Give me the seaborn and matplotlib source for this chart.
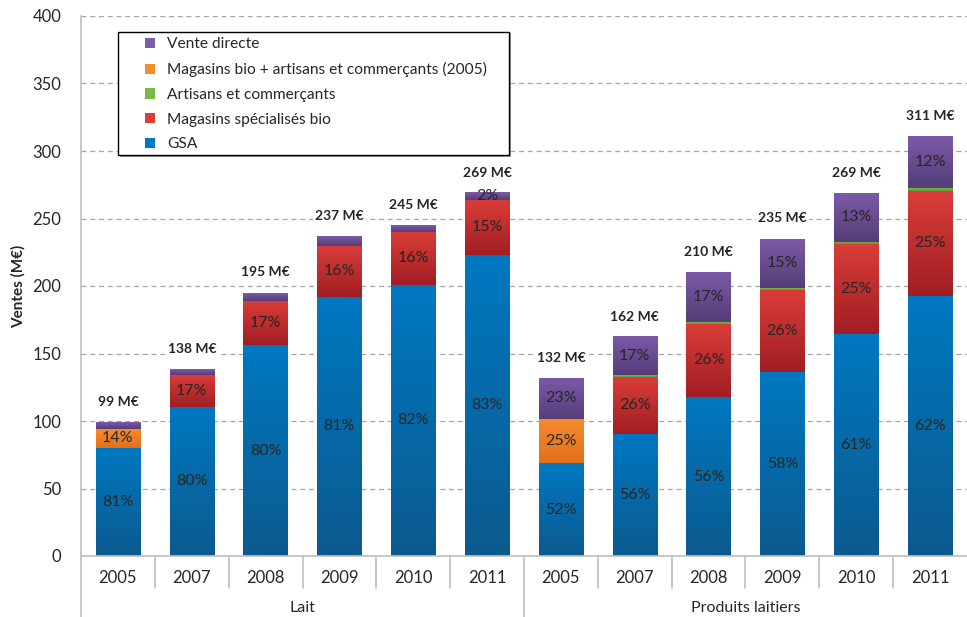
import numpy as np
import matplotlib
matplotlib.use("Agg")
import matplotlib.pyplot as plt
import matplotlib.transforms as mtransforms
from matplotlib.colors import to_rgb
from matplotlib.patches import Patch, Rectangle
import seaborn as sns

# ---- data -----------------------------------------------------------------
groups = ["Lait", "Produits laitiers"]
years = ["2005", "2007", "2008", "2009", "2010", "2011",
         "2005", "2007", "2008", "2009", "2010", "2011"]
bar_keys = ["Lait 2005", "Lait 2007", "Lait 2008", "Lait 2009", "Lait 2010", "Lait 2011",
            "PL 2005", "PL 2007", "PL 2008", "PL 2009", "PL 2010", "PL 2011"]
totals = [99, 138, 195, 237, 245, 269, 132, 162, 210, 235, 269, 311]  # M€

# share of each sales channel in the bar total (%)
share_gsa = [81, 80, 80, 81, 82, 83, 52, 56, 56, 58, 61, 62]
share_msb = [0, 17, 17, 16, 16, 15, 0, 26, 26, 26, 25, 25]
share_mbac = [14, 0, 0, 0, 0, 0, 25, 0, 0, 0, 0, 0]
share_ac = [0, 0, 0, 0, 0, 0, 0, 0.6, 0.6, 0.6, 0.6, 0.7]
share_vd = [5, 3, 3, 3, 2, 2, 23, 17.4, 17.4, 15.4, 13.4, 12.3]

# which segments carry a percentage label
label_gsa = [True] * 12
label_msb = [s > 0 for s in share_msb]
label_mbac = [s > 0 for s in share_mbac]
label_ac = [False] * 12
label_vd = [False] * 5 + [True] * 7

series_names = ["GSA", "Magasins spécialisés bio", "Magasins bio + artisans et commerçants (2005)",
                "Artisans et commerçants", "Vente directe"]
series_shares = [share_gsa, share_msb, share_mbac, share_ac, share_vd]
series_labels = [label_gsa, label_msb, label_mbac, label_ac, label_vd]
# (top, bottom) colours of the vertical gradient of each segment
series_colors = [("#0078C1", "#0C5A8E"),
                 ("#DA3D39", "#A01E23"),
                 ("#F68C2D", "#E0701B"),
                 ("#78BA45", "#5A9A2E"),
                 ("#7B5AA8", "#553D78")]
legend_order = [4, 2, 3, 1, 0]

# ---- style ----------------------------------------------------------------
sns.set_theme(style="white")
plt.rcParams["font.family"] = ["Lato", "DejaVu Sans"]
text_col = "#262626"
axis_col = "#BFBFBF"

fig = plt.figure(figsize=(9.67, 6.17), dpi=100)
W, H = 967, 617
ax = fig.add_axes([81 / W, 61 / H, 886 / W, 540 / H])

# ---- stacked bars ---------------------------------------------------------
bottom = np.zeros(len(totals))
segments = []  # (patches, series index, values, bottoms)
for si, shares in enumerate(series_shares):
    vals = np.array(totals, dtype=float) * np.array(shares, dtype=float) / 100.0
    n_before = len(ax.patches)
    sns.barplot(x=bar_keys, y=vals, order=bar_keys, bottom=bottom.copy(), width=0.6,
                color=series_colors[si][0], saturation=1, edgecolor="none",
                linewidth=0, zorder=2, ax=ax)
    patches = ax.patches[n_before:]
    segments.append((patches, si, vals, bottom.copy()))
    bottom = bottom + vals

# vertical gradient inside every segment
for patches, si, vals, bots in segments:
    top_c = np.array(to_rgb(series_colors[si][0]))
    bot_c = np.array(to_rgb(series_colors[si][1]))
    t = np.linspace(0, 1, 64)[:, None, None]
    grad = top_c[None, None, :] * (1 - t) + bot_c[None, None, :] * t
    for p in patches:
        h = p.get_height()
        if h <= 0:
            continue
        x0, y0, w = p.get_x(), p.get_y(), p.get_width()
        ax.imshow(grad, extent=[x0, x0 + w, y0, y0 + h], aspect="auto",
                  interpolation="bilinear", zorder=2.5)
        p.set_facecolor("none")

# percentage labels
for patches, si, vals, bots in segments:
    shares = series_shares[si]
    for i, (v, b) in enumerate(zip(vals, bots)):
        if series_labels[si][i] and v > 0:
            ax.text(i, b + v / 2, f"{round(shares[i])}%", ha="center", va="center",
                    fontsize=11.5, color=text_col, zorder=4)

# totals above the bars
for i, tot in enumerate(totals):
    ax.text(i, tot + 15, f"{tot} M€", ha="center", va="center", fontsize=10,
            fontweight="bold", color=text_col, zorder=4,
            bbox=dict(facecolor="white", edgecolor="none", pad=1.5))

# ---- axes -----------------------------------------------------------------
ax.set_xlim(-0.5, 11.5)
ax.set_ylim(0, 400)
ax.set_yticks(np.arange(0, 401, 50))
ax.set_axisbelow(True)
ax.yaxis.grid(True, linestyle=(0, (4, 3)), color="#A6A6A6", linewidth=0.9)
ax.xaxis.grid(False)
for side in ("top", "right"):
    ax.spines[side].set_visible(False)
for side in ("left", "bottom"):
    ax.spines[side].set_color(axis_col)
    ax.spines[side].set_linewidth(1.2)
ax.tick_params(axis="y", length=5, color=axis_col, labelsize=12, labelcolor=text_col, pad=9)
ax.set_xticks(range(len(totals)))
ax.set_xticklabels([""] * len(totals))
ax.tick_params(axis="x", length=0)
ax.set_xlabel("")
ax.set_ylabel("Ventes (M€)", fontsize=11, fontweight="bold", color=text_col)
ax.yaxis.set_label_coords(-55 / 886, 0.5)

# two-level category axis
trans = mtransforms.blended_transform_factory(ax.transData, ax.transAxes)
for i, yr in enumerate(years):
    ax.text(i, -22 / 540, yr, transform=trans, ha="center", va="center",
            fontsize=12, color=text_col)
for gi, g in enumerate(groups):
    ax.text(gi * 6 + 2.5, -52 / 540, g, transform=trans, ha="center", va="center",
            fontsize=11.5, color=text_col)
for k in range(12):
    depth = -61 / 540 if k in (0, 6) else -32 / 540
    ax.plot([k - 0.5, k - 0.5], [0, depth], transform=trans, color=axis_col,
            linewidth=1.2, clip_on=False, zorder=1)

# ---- legend ---------------------------------------------------------------
shadow = Rectangle(((118 + 1.5) / W, 1 - (155 + 1.5) / H), (509 - 118) / W, (155 - 32) / H,
                   transform=fig.transFigure, facecolor="#9A9A9A", edgecolor="none", zorder=3)
frame = Rectangle((118 / W, 1 - 155 / H), (509 - 118) / W, (155 - 32) / H,
                  transform=fig.transFigure, facecolor="white", edgecolor="black",
                  linewidth=1.0, zorder=3.1)
fig.add_artist(shadow)
fig.add_artist(frame)
handles = [Patch(facecolor=series_colors[i][0], edgecolor="none") for i in legend_order]
labels = [series_names[i] for i in legend_order]
leg = fig.legend(handles, labels, loc="upper left", bbox_to_anchor=(145 / W, 1 - 37.5 / H),
                 bbox_transform=fig.transFigure, frameon=False, borderpad=0, borderaxespad=0,
                 fontsize=11.2, handlelength=0.65, handleheight=0.65, handletextpad=0.75,
                 labelspacing=0.69, labelcolor=text_col)
leg.set_zorder(5)

fig.savefig("out.png", dpi=100)
